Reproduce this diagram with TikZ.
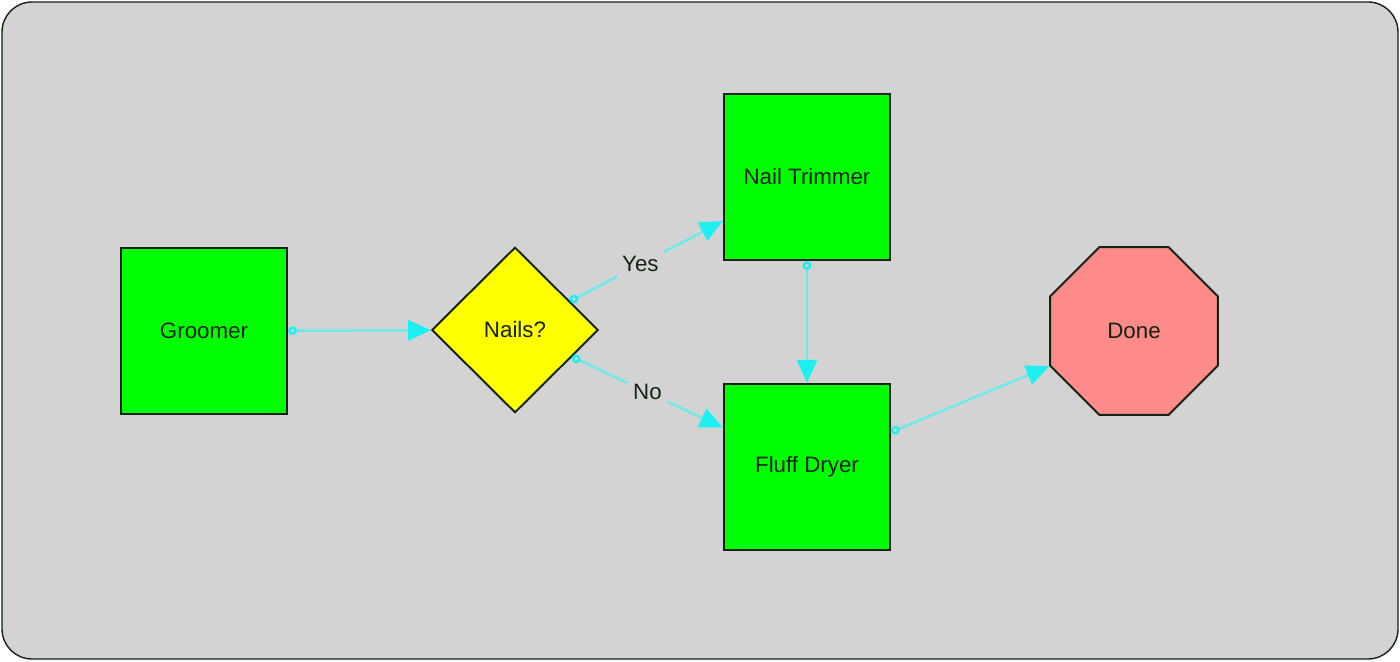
\documentclass[tikz,border=0pt]{standalone}
\usepackage{fontspec}
\setmainfont{Liberation Sans}
\usetikzlibrary{shapes.geometric,arrows.meta}
\definecolor{panel}{RGB}{211,211,211}
\definecolor{inkline}{RGB}{20,34,20}
\definecolor{boxgreen}{RGB}{0,255,0}
\definecolor{nailyellow}{RGB}{255,255,0}
\definecolor{donepink}{RGB}{255,138,138}
\definecolor{flowline}{RGB}{110,232,234}
\definecolor{flowhead}{RGB}{30,240,242}
\begin{document}
\begin{tikzpicture}[font=\fontsize{12.7}{15}\selectfont,text=inkline]
        \tikzstyle{station}=[rectangle,draw=inkline,line width=1.1pt,fill=boxgreen,minimum size=3.33cm,inner sep=0pt]
        \tikzstyle{question}=[diamond,draw=inkline,line width=1.1pt,fill=nailyellow,minimum width=3.33cm,minimum height=3.31cm,aspect=1,inner sep=0pt]
        \tikzstyle{finish}=[regular polygon,regular polygon sides=8,draw=inkline,line width=1.1pt,fill=donepink,minimum size=3.63cm,inner sep=0pt]
        \tikzstyle{edge}=[draw=flowline,line width=1.4pt,{Circle[open,length=5pt,width=5pt,color=flowhead]}-{Triangle[length=13pt,width=11.5pt,color=flowhead,fill=flowhead]}]
        \tikzstyle{answer}=[fill=panel,inner sep=3pt,text=inkline]
       \useasboundingbox (0,0) rectangle (28,13.22);
       \draw[inkline,fill=panel,line width=0.8pt,rounded corners=0.6cm] (0.04,0.04) rectangle (27.96,13.18);
       \begin{scope}
         \node [station] (groomer) at (4.08,6.6) {Groomer};
         \node [question] (nails) at (10.3,6.62) {Nails?};
         \node [station] (trimmer) at (16.14,9.68) {Nail Trimmer};
         \node [station] (dryer) at (16.14,3.88) {Fluff Dryer};
         \node [finish] (done) at (22.68,6.6) {Done};

         \path[edge] (groomer) -- (nails);
         \path[edge] (nails) -- node[answer,pos=0.46] {Yes} (trimmer);
         \path[edge] (nails) -- node[answer,pos=0.5] {No} (dryer);
         \path[edge] (trimmer) -- (dryer);
         \path[edge] (dryer) -- (done);
        \end{scope}
      \end{tikzpicture}
\end{document}
